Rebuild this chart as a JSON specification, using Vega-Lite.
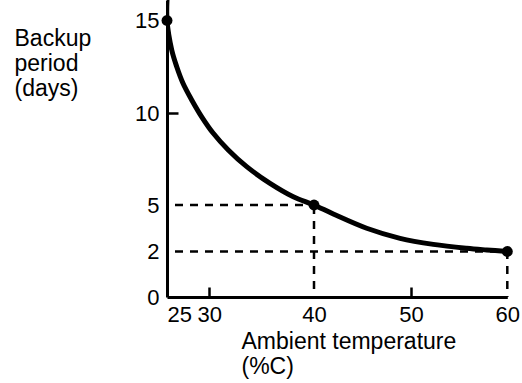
{
  "$schema": "https://vega.github.io/schema/vega-lite/v6.json",
  "autosize": "none",
  "padding": {"left": 167, "top": 0, "right": 14, "bottom": 86},
  "width": 341,
  "height": 297,
  "background": "white",
  "config": {
    "view": {"stroke": null},
    "font": "Liberation Sans",
    "axis": {
      "labelFont": "Liberation Sans",
      "titleFont": "Liberation Sans",
      "labelColor": "black",
      "titleColor": "black",
      "domainColor": "black",
      "tickColor": "black",
      "grid": false
    }
  },
  "datasets": {
    "curve": [
      {"i": 0, "x": 25, "y": 16.1},
      {"i": 1, "x": 25, "y": 15},
      {"i": 2, "x": 25.56, "y": 13.41},
      {"i": 3, "x": 26.15, "y": 12.51},
      {"i": 4, "x": 26.89, "y": 11.62},
      {"i": 5, "x": 27.92, "y": 10.72},
      {"i": 6, "x": 29.1, "y": 9.81},
      {"i": 7, "x": 30.38, "y": 8.91},
      {"i": 8, "x": 31.81, "y": 8.0},
      {"i": 9, "x": 33.57, "y": 7.09},
      {"i": 10, "x": 35.8, "y": 6.18},
      {"i": 11, "x": 38.02, "y": 5.45},
      {"i": 12, "x": 40, "y": 5},
      {"i": 13, "x": 41.99, "y": 4.42},
      {"i": 14, "x": 45.43, "y": 3.5},
      {"i": 15, "x": 48.87, "y": 2.85},
      {"i": 16, "x": 52.32, "y": 2.46},
      {"i": 17, "x": 55.78, "y": 2.21},
      {"i": 18, "x": 57.86, "y": 2.1},
      {"i": 19, "x": 60, "y": 2}
    ],
    "dots": [
      {"x": 25, "y": 15},
      {"x": 40, "y": 5},
      {"x": 60, "y": 2}
    ],
    "guides": [
      {"x": 25, "x2": 40, "y": 5, "y2": 5},
      {"x": 25, "x2": 60, "y": 2, "y2": 2},
      {"x": 40, "x2": 40, "y": 0, "y2": 5},
      {"x": 60, "x2": 60, "y": 0, "y2": 2}
    ]
  },
  "encoding": {
    "x": {
      "field": "x",
      "type": "quantitative",
      "scale": {"domain": [25, 30, 40, 50, 60], "range": [0, 42.3, 147, 244, 340.3], "nice": false, "zero": false},
      "axis": {
        "values": [25, 30, 40, 50, 60],
        "labelFontSize": 22,
        "labelPadding": 17,
        "labelAlign": {"condition": {"test": "datum.value == 25", "value": "left"}, "value": "center"},
        "labelFlush": false,
        "labelOverlap": false,
        "tickSize": -10,
        "tickWidth": 2.5,
        "tickOpacity": {"condition": {"test": "datum.value == 30 || datum.value == 50", "value": 1}, "value": 0},
        "domainWidth": 3,
        "title": ["Ambient temperature", "(%C)"],
        "titleFontSize": 23,
        "titleFontWeight": "normal",
        "titleAlign": "left",
        "titleBaseline": "alphabetic",
        "titleAngle": 0,
        "titleLineHeight": 25,
        "titleX": 74,
        "titleY": 51
      }
    },
    "y": {
      "field": "y",
      "type": "quantitative",
      "scale": {"domain": [0, 2, 5, 10, 15, 16.1], "range": [297, 251.5, 205, 113.3, 20.5, 0], "nice": false, "zero": false},
      "axis": {
        "values": [0, 2, 5, 10, 15],
        "labelFontSize": 22,
        "labelPadding": 19,
        "labelFlush": false,
        "labelOverlap": false,
        "tickSize": -11,
        "tickWidth": 2.5,
        "tickOpacity": {"condition": {"test": "datum.value == 10", "value": 1}, "value": 0},
        "domainWidth": 3,
        "title": ["Backup", "period", "(days)"],
        "titleFontSize": 23,
        "titleFontWeight": "normal",
        "titleAlign": "left",
        "titleBaseline": "alphabetic",
        "titleAngle": 0,
        "titleLineHeight": 25,
        "titleX": -153,
        "titleY": 45
      }
    }
  },
  "layer": [
    {
      "data": {"name": "guides"},
      "mark": {"type": "rule", "color": "black", "strokeWidth": 2.5, "strokeDash": [8, 7], "strokeDashOffset": -8},
      "encoding": {
        "x2": {"field": "x2"},
        "y2": {"field": "y2"}
      }
    },
    {
      "data": {"name": "curve"},
      "mark": {"type": "line", "color": "black", "strokeWidth": 5, "interpolate": "catmull-rom", "clip": true},
      "encoding": {
        "order": {"field": "i", "type": "quantitative"}
      }
    },
    {
      "data": {"name": "dots"},
      "mark": {"type": "circle", "color": "black", "opacity": 1, "size": 120},
      "encoding": {}
    }
  ]
}
